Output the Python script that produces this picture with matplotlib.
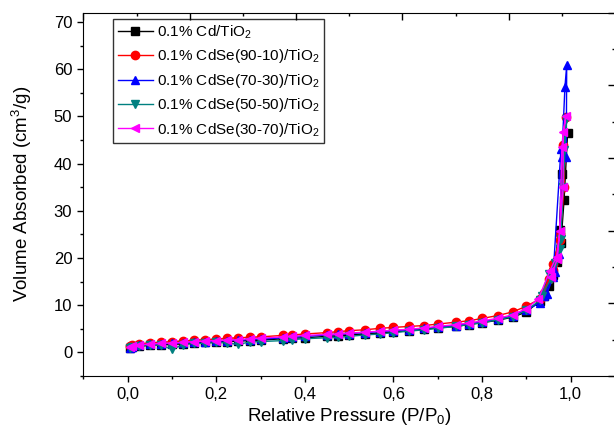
import matplotlib.pyplot as plt
import matplotlib.ticker as ticker

plt.rcParams.update({
    "font.family": ["Liberation Sans", "DejaVu Sans"],
    "mathtext.fontset": "custom",
    "mathtext.rm": "Liberation Sans",
    "mathtext.it": "Liberation Sans",
})

# relative pressure, low/medium range (shared)
p_low = [0.005, 0.01, 0.025, 0.05, 0.075, 0.1, 0.125, 0.15, 0.175, 0.2, 0.225, 0.25,
         0.275, 0.3, 0.35, 0.37, 0.4, 0.45, 0.475, 0.5, 0.535, 0.57, 0.6, 0.635,
         0.67, 0.7, 0.74, 0.77, 0.8, 0.835, 0.87, 0.9]

v_cd = [0.9, 1.1, 1.3, 1.5, 1.6, 1.7, 1.8, 2.0, 2.1, 2.2, 2.3, 2.4, 2.5, 2.6, 2.9, 3.0,
        3.1, 3.4, 3.5, 3.7, 3.9, 4.1, 4.3, 4.6, 4.9, 5.2, 5.5, 5.9, 6.3, 6.8, 7.5, 8.6]
v_90 = [1.3, 1.5, 1.8, 2.0, 2.1, 2.3, 2.4, 2.6, 2.7, 2.8, 3.0, 3.1, 3.2, 3.3, 3.6, 3.7,
        3.9, 4.2, 4.4, 4.6, 4.8, 5.1, 5.3, 5.5, 5.7, 6.0, 6.4, 6.7, 7.2, 7.8, 8.6, 9.8]
v_70 = [1.0, 1.2, 1.5, 1.7, 1.8, 1.9, 2.0, 2.2, 2.3, 2.4, 2.5, 2.6, 2.7, 2.8, 3.1, 3.2,
        3.4, 3.7, 3.8, 4.0, 4.2, 4.4, 4.6, 4.8, 5.1, 5.4, 5.7, 6.1, 6.5, 7.0, 7.8, 9.0]
v_50 = [0.9, 1.1, 1.4, 1.6, 1.5, 0.7, 1.6, 1.9, 1.9, 2.1, 2.0, 1.7, 2.2, 2.3, 2.5, 2.7,
        2.9, 3.1, 3.2, 3.4, 3.7, 3.9, 4.2, 4.5, 4.8, 5.1, 5.5, 5.9, 6.3, 6.9, 7.6, 8.9]
v_30 = [1.1, 1.3, 1.6, 1.8, 1.9, 2.0, 2.1, 2.3, 2.4, 2.5, 2.6, 2.7, 2.9, 3.0, 3.3, 3.4,
        3.6, 3.8, 3.9, 4.1, 4.3, 4.5, 4.7, 4.9, 5.2, 5.5, 5.9, 6.2, 6.7, 7.2, 8.0, 9.3]

# high pressure part (adsorption up, then desorption back)
p_hi_cd = [0.93, 0.95, 0.97, 0.978, 0.985, 0.993, 0.98, 0.975, 0.96, 0.94]
v_hi_cd = [10.8, 14.0, 19.1, 23.2, 32.2, 46.4, 37.8, 26.0, 16.5, 12.0]
p_hi_90 = [0.93, 0.95, 0.96, 0.976, 0.985, 0.989, 0.982, 0.975, 0.96, 0.94]
v_hi_90 = [11.3, 15.5, 18.8, 23.9, 35.0, 49.9, 44.0, 25.0, 17.5, 12.5]
p_hi_70 = [0.93, 0.946, 0.965, 0.974, 0.98, 0.987, 0.991, 0.99, 0.978, 0.96, 0.94]
v_hi_70 = [10.5, 12.4, 17.0, 20.9, 41.4, 56.2, 60.8, 41.4, 43.0, 16.0, 12.0]
p_hi_50 = [0.93, 0.95, 0.965, 0.978, 0.985, 0.99, 0.983, 0.975, 0.955, 0.935]
v_hi_50 = [11.0, 16.7, 19.0, 24.0, 42.8, 49.5, 35.0, 22.0, 15.5, 12.0]
p_hi_30 = [0.927, 0.953, 0.968, 0.976, 0.98, 0.989, 0.983, 0.983, 0.97, 0.955]
v_hi_30 = [11.3, 17.3, 20.3, 25.8, 43.5, 50.0, 46.7, 35.0, 19.8, 16.0]

series = [
    ("0.1% Cd/TiO$_2$", v_cd, p_hi_cd, v_hi_cd, "black", "s"),
    ("0.1% CdSe(90-10)/TiO$_2$", v_90, p_hi_90, v_hi_90, "red", "o"),
    ("0.1% CdSe(70-30)/TiO$_2$", v_70, p_hi_70, v_hi_70, "blue", "^"),
    ("0.1% CdSe(50-50)/TiO$_2$", v_50, p_hi_50, v_hi_50, "#008080", "v"),
    ("0.1% CdSe(30-70)/TiO$_2$", v_30, p_hi_30, v_hi_30, "magenta", "<"),
]

fig = plt.figure(figsize=(6.14, 4.33), dpi=100)
ax = fig.add_axes([0.1358, 0.1316, 0.8658, 0.8395])

for label, v, ph, vh, c, m in series:
    ax.plot(p_low + ph, v + vh, color=c, marker=m, markersize=6, linewidth=1, label=label)

ax.set_xlim(-0.1, 1.1)
ax.set_ylim(-5, 72)
ax.xaxis.set_major_locator(ticker.MultipleLocator(0.2))
ax.xaxis.set_minor_locator(ticker.MultipleLocator(0.1))
ax.yaxis.set_major_locator(ticker.MultipleLocator(10))
ax.yaxis.set_minor_locator(ticker.MultipleLocator(5))
ax.xaxis.set_major_formatter(ticker.FuncFormatter(lambda x, pos: f"{x:.1f}".replace(".", ",")))
ax.tick_params(which="both", direction="out", labelsize=12, width=1)
ax.tick_params(which="major", length=4.5)
ax.tick_params(which="minor", length=2.5)
ax.set_xlabel("Relative Pressure (P/P$_0$)", fontsize=13.5, labelpad=3)
ax.set_ylabel("Volume Absorbed (cm$^3$/g)", fontsize=13.5, labelpad=14)

# top / right inward ticks on a separate frame
ax2 = fig.add_axes(ax.get_position(), frameon=False)
ax2.set_xlim(0, 5)
ax2.set_ylim(0, 5)
ax2.xaxis.set_major_locator(ticker.MultipleLocator(1))
ax2.xaxis.set_minor_locator(ticker.MultipleLocator(0.5))
ax2.yaxis.set_major_locator(ticker.MultipleLocator(1))
ax2.yaxis.set_minor_locator(ticker.MultipleLocator(0.5))
ax2.tick_params(which="both", direction="in", top=True, right=True, bottom=False, left=False,
                labeltop=False, labelright=False, labelbottom=False, labelleft=False, width=1)
ax2.tick_params(which="major", length=5)
ax2.tick_params(which="minor", length=2.5)
ax2.patch.set_visible(False)

leg = ax.legend(loc="upper left", bbox_to_anchor=(0.0557, 0.982), borderaxespad=0,
                fontsize=11, frameon=True, fancybox=False, edgecolor="black",
                handlelength=2.3, labelspacing=0.42, borderpad=0.3, handletextpad=0.3)
leg.get_frame().set_linewidth(1)

fig.savefig("out.png", dpi=100)
